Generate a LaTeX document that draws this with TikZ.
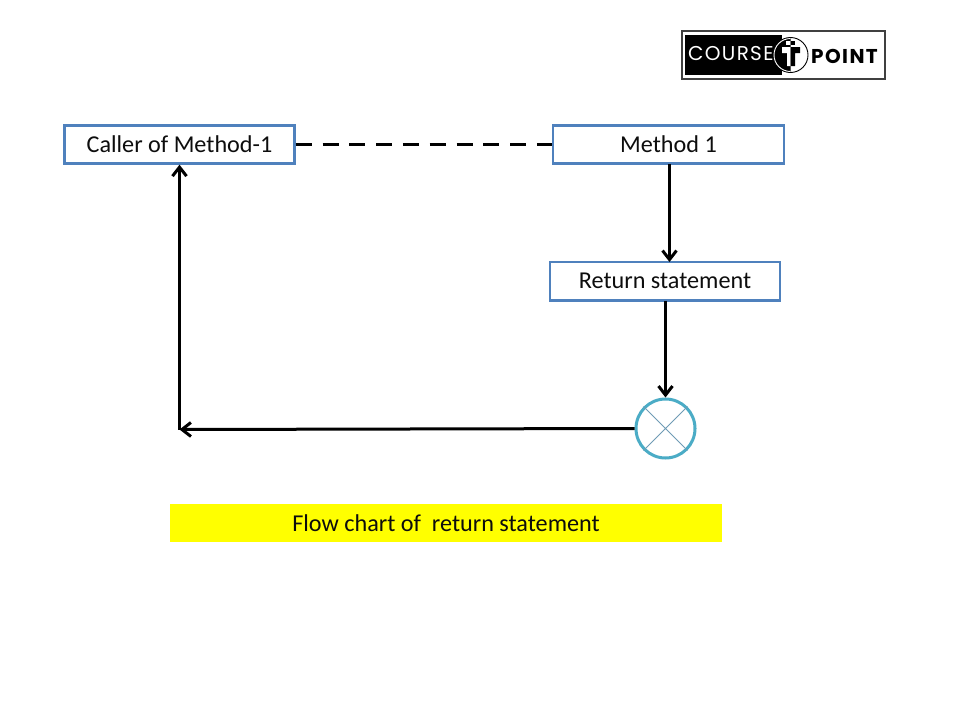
\documentclass[tikz,border=0pt]{standalone}
\usepackage{fontspec}
\setmainfont{Carlito}
\newfontfamily\logofont[LetterSpace=6.5]{Poppins}
\newfontfamily\logoboldfont[LetterSpace=7,UprightFont=*,BoldFont=* Bold]{Poppins}
\usetikzlibrary{arrows.meta}
\definecolor{boxblue}{HTML}{4F81BD}
\definecolor{tealc}{HTML}{4BACC6}
\definecolor{crossc}{HTML}{6E9BB5}
\definecolor{capyellow}{HTML}{FFFF00}
\definecolor{inkc}{HTML}{0D0D0D}
\tikzset{
  x=1pt,y=-1pt,
  flowbox/.style={draw=boxblue,line width=2.4pt,fill=white,inner sep=0pt,font=\fontsize{24.2}{26}\selectfont,text=inkc},
  flow/.style={draw=black,line width=3pt,-{Straight Barb[length=9pt,width=14pt,line width=3pt]}},
  plain/.style={draw=black,line width=3pt}
}
\begin{document}
\begin{tikzpicture}
\useasboundingbox (0,0) rectangle (960,720);
\fill[white] (0,0) rectangle (960,720);
% logo
\node[draw=black!75,line width=1.4pt,fill=white,minimum width=203pt,minimum height=48pt,inner sep=0pt] (logo) at (783.5,55) {};
\fill[black] (685,35) rectangle (782,75);
\node[circle,draw=black,fill=white,line width=.9pt,minimum size=35pt,inner sep=0pt] (tcirc) at (790.5,55) {};
\fill[black] (tcirc.center) ++(0,-17.5) arc (90:270:17.5pt) -- cycle;
\draw[white,line width=.9pt] (790.5,38.5) arc (90:270:16.5pt);
\begin{scope}
\clip (773,36) rectangle (790.5,74);
\fill[white] (782,47) -- (800,47) -- (800,53) -- (795,53) -- (795,66) -- (787,66) -- (787,53) -- (782,53) -- cycle;
\fill[white] (786,41) rectangle (795,45);
\end{scope}
\begin{scope}
\clip (790.5,36) rectangle (808,74);
\fill[black] (782,47) -- (800,47) -- (800,53) -- (795,53) -- (795,66) -- (787,66) -- (787,53) -- (782,53) -- cycle;
\fill[black] (786,41) rectangle (795,45);
\end{scope}
\node[font=\fontsize{20}{22}\selectfont\logofont,text=white,inner sep=0pt,anchor=west] (course) at (688,54) {COURSE};
\node[font=\fontsize{20}{22}\selectfont\logoboldfont\bfseries,text=black,inner sep=0pt,anchor=west] (point) at (811,56) {POINT};
% boxes
\node[flowbox,minimum width=230pt,minimum height=38pt] (caller) at (179.5,144.5) {Caller of Method-1};
\node[flowbox,minimum width=231pt,minimum height=38pt] (method) at (668.5,144.5) {Method 1};
\node[flowbox,minimum width=230pt,minimum height=38.6pt] (ret) at (665,281.3) {Return statement};
\node[circle,draw=tealc,line width=3pt,fill=white,minimum size=59pt,inner sep=0pt] (conn) at (665.5,428.5) {};
\draw[crossc,line width=.8pt] (conn.north west) -- (conn.south east) (conn.north east) -- (conn.south west);
\coordinate (corner) at (179.5,429.5);
% connectors
\draw[plain,dash pattern=on 16pt off 10.8pt,yshift=-0.6pt] (caller.east) -- (method.west);
\draw[flow] (669.5,164) -- (669.5,262);
\draw[flow] (665.5,301) -- (conn.north);
\draw[flow] (conn.west) -- (corner);
\draw[flow] (corner) -- (caller.south);
% caption
\node[fill=capyellow,minimum width=552pt,minimum height=38pt,inner sep=0pt,font=\fontsize{24.2}{26}\selectfont,text=inkc] (cap) at (446,523) {Flow chart of\ \ return statement};
\end{tikzpicture}
\end{document}
